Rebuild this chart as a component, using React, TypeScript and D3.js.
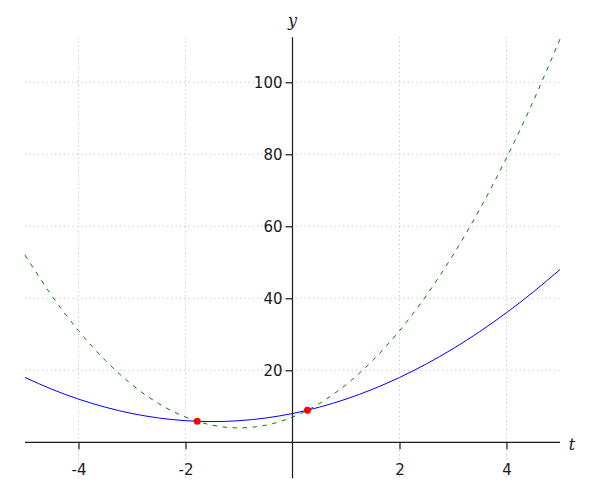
import { useRef, useEffect } from "react";
import * as d3 from "d3";

// ── Data ────────────────────────────────────────────────────────────────────

const tValues = [
  -5, -4.5, -4, -3.5, -3, -2.5, -2, -1.5, -1, -0.5, 0,
  0.5, 1, 1.5, 2, 2.5, 3, 3.5, 4, 4.5, 5,
];
const blueValues = [
  18, 14.75, 12, 9.75, 8, 6.75, 6, 5.75, 6, 6.75, 8,
  9.75, 12, 14.75, 18, 21.75, 26, 30.75, 36, 41.75, 48,
];
const greenValues = [
  52, 40.75, 31, 22.75, 16, 10.75, 7, 4.75, 4, 4.75, 7,
  10.75, 16, 22.75, 31, 40.75, 52, 64.75, 79, 94.75, 112,
];
const crossT = [-1.78, 0.28];
const crossY = [5.83, 8.92];
const xTicks = [-4, -2, 2, 4];
const yTicks = [20, 40, 60, 80, 100];

const W = 600;
const H = 500;
const FONT = "DejaVu Sans, sans-serif";
const INK = "#1a1a1a";

export default function App() {
  const svgRef = useRef<SVGSVGElement>(null);

  useEffect(() => {
    if (!svgRef.current) return;
    const svg = d3.select(svgRef.current);
    svg.selectAll("*").remove();

    // ── Scales ────────────────────────────────────────────────────────────
    const x = d3.scaleLinear().domain([-5, 5]).range([25, 560]);
    const y = d3.scaleLinear().domain([-10, 112.5]).range([478.3, 37.3]);
    const x0 = x(0);
    const y0 = y(0);

    // ── Gridlines ─────────────────────────────────────────────────────────
    const grid = svg.append("g")
      .attr("stroke", "#c4c4c4")
      .attr("stroke-width", 1)
      .attr("stroke-dasharray", "1.2,3.1");
    grid.selectAll(".gx").data(xTicks).enter().append("line")
      .attr("x1", (d) => x(d)).attr("x2", (d) => x(d))
      .attr("y1", y.range()[1]).attr("y2", y.range()[0]);
    grid.selectAll(".gy").data(yTicks).enter().append("line")
      .attr("y1", (d) => y(d)).attr("y2", (d) => y(d))
      .attr("x1", x.range()[0]).attr("x2", x.range()[1]);

    // ── Axes ──────────────────────────────────────────────────────────────
    svg.append("g")
      .attr("transform", `translate(0,${y0})`)
      .call(d3.axisBottom(x).tickValues(xTicks).tickSize(7).tickSizeOuter(0).tickPadding(15)
        .tickFormat((d) => String(d)))
      .call((g) => g.select(".domain").remove())
      .call((g) => g.selectAll("line").attr("stroke", INK).attr("stroke-width", 1.2))
      .call((g) => g.selectAll("text").attr("fill", INK)
        .style("font-size", "15px").style("font-family", FONT));

    svg.append("g")
      .attr("transform", `translate(${x0},0)`)
      .call(d3.axisLeft(y).tickValues(yTicks).tickSize(7).tickSizeOuter(0).tickPadding(3))
      .call((g) => g.select(".domain").remove())
      .call((g) => g.selectAll("line").attr("stroke", INK).attr("stroke-width", 1.2))
      .call((g) => g.selectAll("text").attr("fill", INK)
        .style("font-size", "15px").style("font-family", FONT));

    svg.append("line")
      .attr("x1", x.range()[0]).attr("x2", x.range()[1])
      .attr("y1", y0).attr("y2", y0)
      .attr("stroke", INK).attr("stroke-width", 1.2);
    svg.append("line")
      .attr("x1", x0).attr("x2", x0)
      .attr("y1", y.range()[1]).attr("y2", y.range()[0])
      .attr("stroke", INK).attr("stroke-width", 1.2);

    // ── Curves ────────────────────────────────────────────────────────────
    const line = d3.line<number>()
      .x((_, i) => x(tValues[i]))
      .y((d) => y(d))
      .curve(d3.curveNatural);

    svg.append("path")
      .attr("d", line(greenValues))
      .attr("fill", "none")
      .attr("stroke", "#007f00")
      .attr("stroke-width", 1)
      .attr("stroke-dasharray", "4.5,5.5");

    svg.append("path")
      .attr("d", line(blueValues))
      .attr("fill", "none")
      .attr("stroke", "#0000ff")
      .attr("stroke-width", 1);

    svg.selectAll(".pt").data(crossT).enter().append("circle")
      .attr("cx", (d) => x(d))
      .attr("cy", (_, i) => y(crossY[i]))
      .attr("r", 3.5)
      .attr("fill", "#ff0000");

    // ── Axis labels ───────────────────────────────────────────────────────
    svg.append("text")
      .attr("x", x0).attr("y", 26)
      .attr("text-anchor", "middle")
      .attr("font-family", "DejaVu Serif, serif")
      .attr("font-style", "italic")
      .attr("font-size", 16)
      .attr("fill", INK)
      .text("y");
    svg.append("text")
      .attr("x", 572).attr("y", y0 + 8)
      .attr("text-anchor", "middle")
      .attr("font-family", "DejaVu Serif, serif")
      .attr("font-style", "italic")
      .attr("font-size", 16)
      .attr("fill", INK)
      .text("t");
  }, []);

  return (
    <svg
      ref={svgRef}
      width={W}
      height={H}
      style={{ position: "absolute", left: 0, top: 0, background: "#fff" }}
    />
  );
}
